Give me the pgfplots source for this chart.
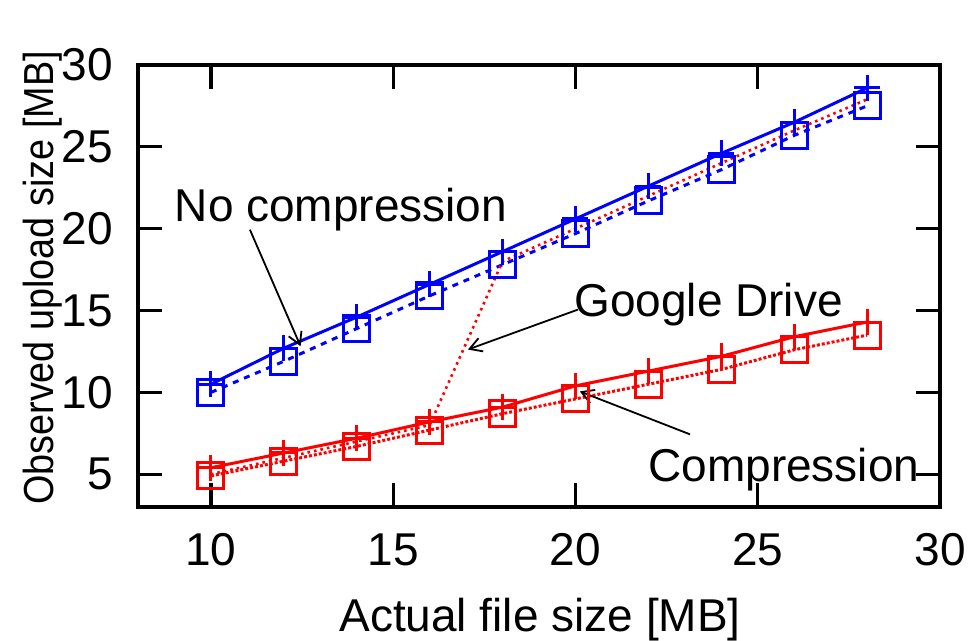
\documentclass[border=0pt]{standalone}
\usepackage{fontspec}
\setmainfont{Liberation Sans}
\usepackage{pgfplots}
\pgfplotsset{compat=1.18}
\usetikzlibrary{arrows.meta}
\begin{document}
\begin{tikzpicture}
\newcommand{\bigf}{\fontsize{23}{27}\selectfont}
\begin{axis}[
  at={(0,0)}, anchor=south west,
  scale only axis, width=401pt, height=221pt,
  xmin=8, xmax=30, ymin=3, ymax=30,
  xtick={10,15,20,25,30}, ytick={5,10,15,20,25,30},
  tick pos=both, tick align=inside,
  major tick length=12pt,
  axis line style={line width=1.6pt},
  every tick/.style={line width=1.6pt, black},
  /pgf/number format/assume math mode=true,
  tick label style={font=\bigf},
  xticklabel style={inner sep=0pt, anchor=north, yshift=-13pt},
  yticklabel style={inner sep=0pt, anchor=east, xshift=-12.5pt},
  clip=false,
]
% No compression, solid, plus
\addplot[blue, line width=1.5pt, mark=+, mark size=6.5pt, mark options={solid, line width=1.5pt}] coordinates {
(10,10.5) (12,12.7) (14,14.6) (16,16.6) (18,18.6) (20,20.6) (22,22.6) (24,24.6) (26,26.5) (28,28.6)};
% No compression, dashed, squares
\addplot[blue, line width=1.5pt, dashed, mark=square, mark size=6.5pt, mark options={solid, line width=1.5pt}] coordinates {
(10,10.0) (12,11.9) (14,13.9) (16,15.9) (18,17.8) (20,19.7) (22,21.7) (24,23.6) (26,25.7) (28,27.5)};
% Compression, solid, plus
\addplot[red, line width=1.5pt, mark=+, mark size=6.5pt, mark options={solid, line width=1.5pt}] coordinates {
(10,5.4) (12,6.3) (14,7.2) (16,8.2) (18,9.1) (20,10.4) (22,11.3) (24,12.2) (26,13.4) (28,14.3)};
% Compression, dotted, squares
\addplot[red, line width=1.5pt, densely dotted, mark=square, mark size=6.5pt, mark options={solid, line width=1.5pt}] coordinates {
(10,4.9) (12,5.8) (14,6.7) (16,7.7) (18,8.7) (20,9.6) (22,10.5) (24,11.4) (26,12.6) (28,13.5)};
% Google Drive
\addplot[red, line width=1.3pt, dotted] coordinates {
(10,5.0) (12,6.0) (14,7.0) (16,8.0) (18,18.0) (20,20.0) (22,22.0) (24,24.0) (26,26.0) (28,27.9)};

\node[anchor=base west, inner sep=0pt, font=\bigf] at (axis cs:9.0,20.43) {No compression};
\node[anchor=base west, inner sep=0pt, font=\bigf] at (axis cs:19.96,14.63) {Google Drive};
\node[anchor=base west, inner sep=0pt, font=\bigf] at (axis cs:21.99,4.57) {Compression};
\draw[black, line width=0.9pt, -{Straight Barb[length=6pt, width=7pt, line width=0.9pt]}] (axis cs:11.07,19.94) -- (axis cs:12.46,12.82);
\draw[black, line width=0.9pt, -{Straight Barb[length=6pt, width=7pt, line width=0.9pt]}] (axis cs:20.07,15.06) -- (axis cs:17.05,12.62);
\draw[black, line width=0.9pt, -{Straight Barb[length=6pt, width=7pt, line width=0.9pt]}] (axis cs:23.14,7.44) -- (axis cs:20.12,10.06);
\end{axis}
\node[anchor=base, inner sep=0pt, font=\bigf] at (201pt,-62.5pt) {Actual file size [MB]};
\node[rotate=90, anchor=base, inner sep=0pt, font=\fontsize{21}{25}\selectfont] at (-42.5pt,114.5pt) {\scalebox{0.9}[1]{Observed upload size [MB]}};
\pgfresetboundingbox
\useasboundingbox (-69pt,-67pt) rectangle (415pt,253.5pt);
\end{tikzpicture}
\end{document}
